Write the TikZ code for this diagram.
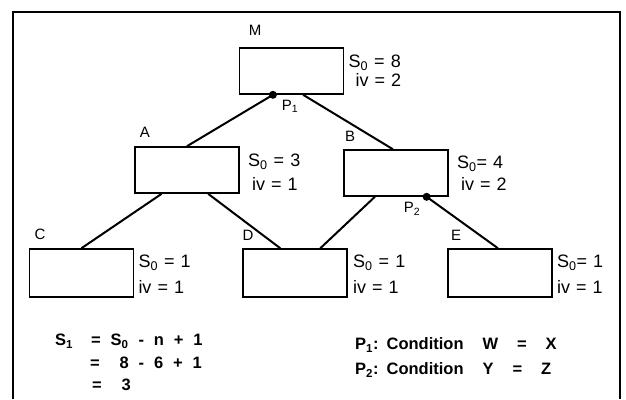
\documentclass[tikz,border=0pt]{standalone}
\usepackage{fontspec}
\setmainfont{Liberation Sans}
\usetikzlibrary{calc}
\newcommand\wordgap[1]{\spaceskip #1\relax}
\begin{document}
\begin{tikzpicture}[x=1pt,y=-1pt,
  box/.style={draw,line width=1.6pt,minimum width=104pt,minimum height=46pt,inner sep=0pt},
  lowbox/.style={box,minimum height=48pt},
  lbl/.style={font=\fontsize{15}{16}\selectfont,inner sep=0pt},
  valtxt/.style={anchor=west,align=left,inner sep=0pt},
  calctxt/.style={anchor=west,inner sep=0pt,font=\fontsize{16.5}{18}\selectfont\bfseries\wordgap{0.6em}},
  condtxt/.style={calctxt,font=\fontsize{16.5}{18}\selectfont\bfseries\wordgap{1.15em}},
  link/.style={line width=2pt},
  joint/.style={fill,radius=4pt}]
\useasboundingbox (0,0) rectangle (626,399);
% Frame (open at the bottom)
\draw[line width=1.6pt] (13,399) -- (13,12) -- (620,12) -- (620,399);
% Nodes
\node[box] (M) at (291.5,71) {};
\node[box] (A) at (187,170) {};
\node[box] (B) at (396,173) {};
\node[lowbox] (C) at (81.5,273) {};
\node[lowbox] (D) at (295,273) {};
\node[lowbox] (E) at (500,273) {};
\node[lbl] (Mname) at (255,30) {M};
\node[lbl] (Aname) at (145,132) {A};
\node[lbl] (Bname) at (350,136) {B};
\node[lbl] (Cname) at (40,234) {C};
\node[lbl] (Dname) at (248,235) {D};
\node[lbl] (Ename) at (456,235) {E};
% Values
\node[valtxt,font=\fontsize{18}{19}\selectfont\wordgap{0.34em}] (Mval) at ($(M.east)+(4,0)$) {S\textsubscript{0} = 8\\\hspace{7pt}iv = 2};
\node[valtxt,font=\fontsize{18}{24}\selectfont\wordgap{0.34em}] (Aval) at ($(A.east)+(8,2)$) {S\textsubscript{0} = 3\\\hspace{4pt}iv = 1};
\node[valtxt,font=\fontsize{18}{22}\selectfont\wordgap{0.34em}] (Bval) at ($(B.east)+(8,0)$) {S\textsubscript{0}= 4\\\hspace{4pt}iv = 2};
\node[valtxt,font=\fontsize{18}{26}\selectfont\wordgap{0.34em}] (Cval) at ($(C.east)+(4,1)$) {S\textsubscript{0} = 1\\iv = 1};
\node[valtxt,font=\fontsize{18}{26}\selectfont\wordgap{0.34em}] (Dval) at ($(D.east)+(5,1)$) {S\textsubscript{0} = 1\\iv = 1};
\node[valtxt,font=\fontsize{18}{26}\selectfont\wordgap{0.34em}] (Eval) at ($(E.east)+(4,1)$) {S\textsubscript{0}= 1\\iv = 1};
% Connection points
\coordinate (P1) at ($(M.south west)!0.324!(M.south east)$);
\coordinate (P2) at ($(B.south west)!0.79!(B.south east)$);
\fill[joint] (P1) circle;
\fill[joint] (P2) circle;
\node[lbl] (P1name) at (290,106) {P\textsubscript{1}};
\node[lbl] (P2name) at (412,209) {P\textsubscript{2}};
% Connectors
\draw[link] (P1) -- (A.north);
\draw[link] ($(M.south west)!0.61!(M.south east)$) -- ($(B.north west)!0.47!(B.north east)$);
\draw[link] ($(A.south west)!0.26!(A.south east)$) -- (C.north);
\draw[link] ($(A.south west)!0.70!(A.south east)$) -- ($(D.north west)!0.36!(D.north east)$);
\draw[link] ($(B.south west)!0.30!(B.south east)$) -- ($(D.north west)!0.74!(D.north east)$);
\draw[link] (P2) -- ($(E.north west)!0.48!(E.north east)$);
% Calculation
\node[calctxt] (s1) at (55,341) {S\textsubscript{1}};
\node[calctxt] (eq1) at (91,341) {= S\textsubscript{0} - n + 1};
\node[calctxt] (eq2) at (90,363) {=\ \ 8 - 6 + 1};
\node[calctxt] (eq3) at (92,385) {=\ \ 3};
% Conditions
\node[condtxt] (cond1) at (355,345) {P\textsubscript{1}:\hspace{8pt}Condition W = X};
\node[condtxt] (cond2) at (355,370) {P\textsubscript{2}:\hspace{8pt}Condition Y = Z};
\end{tikzpicture}
\end{document}
